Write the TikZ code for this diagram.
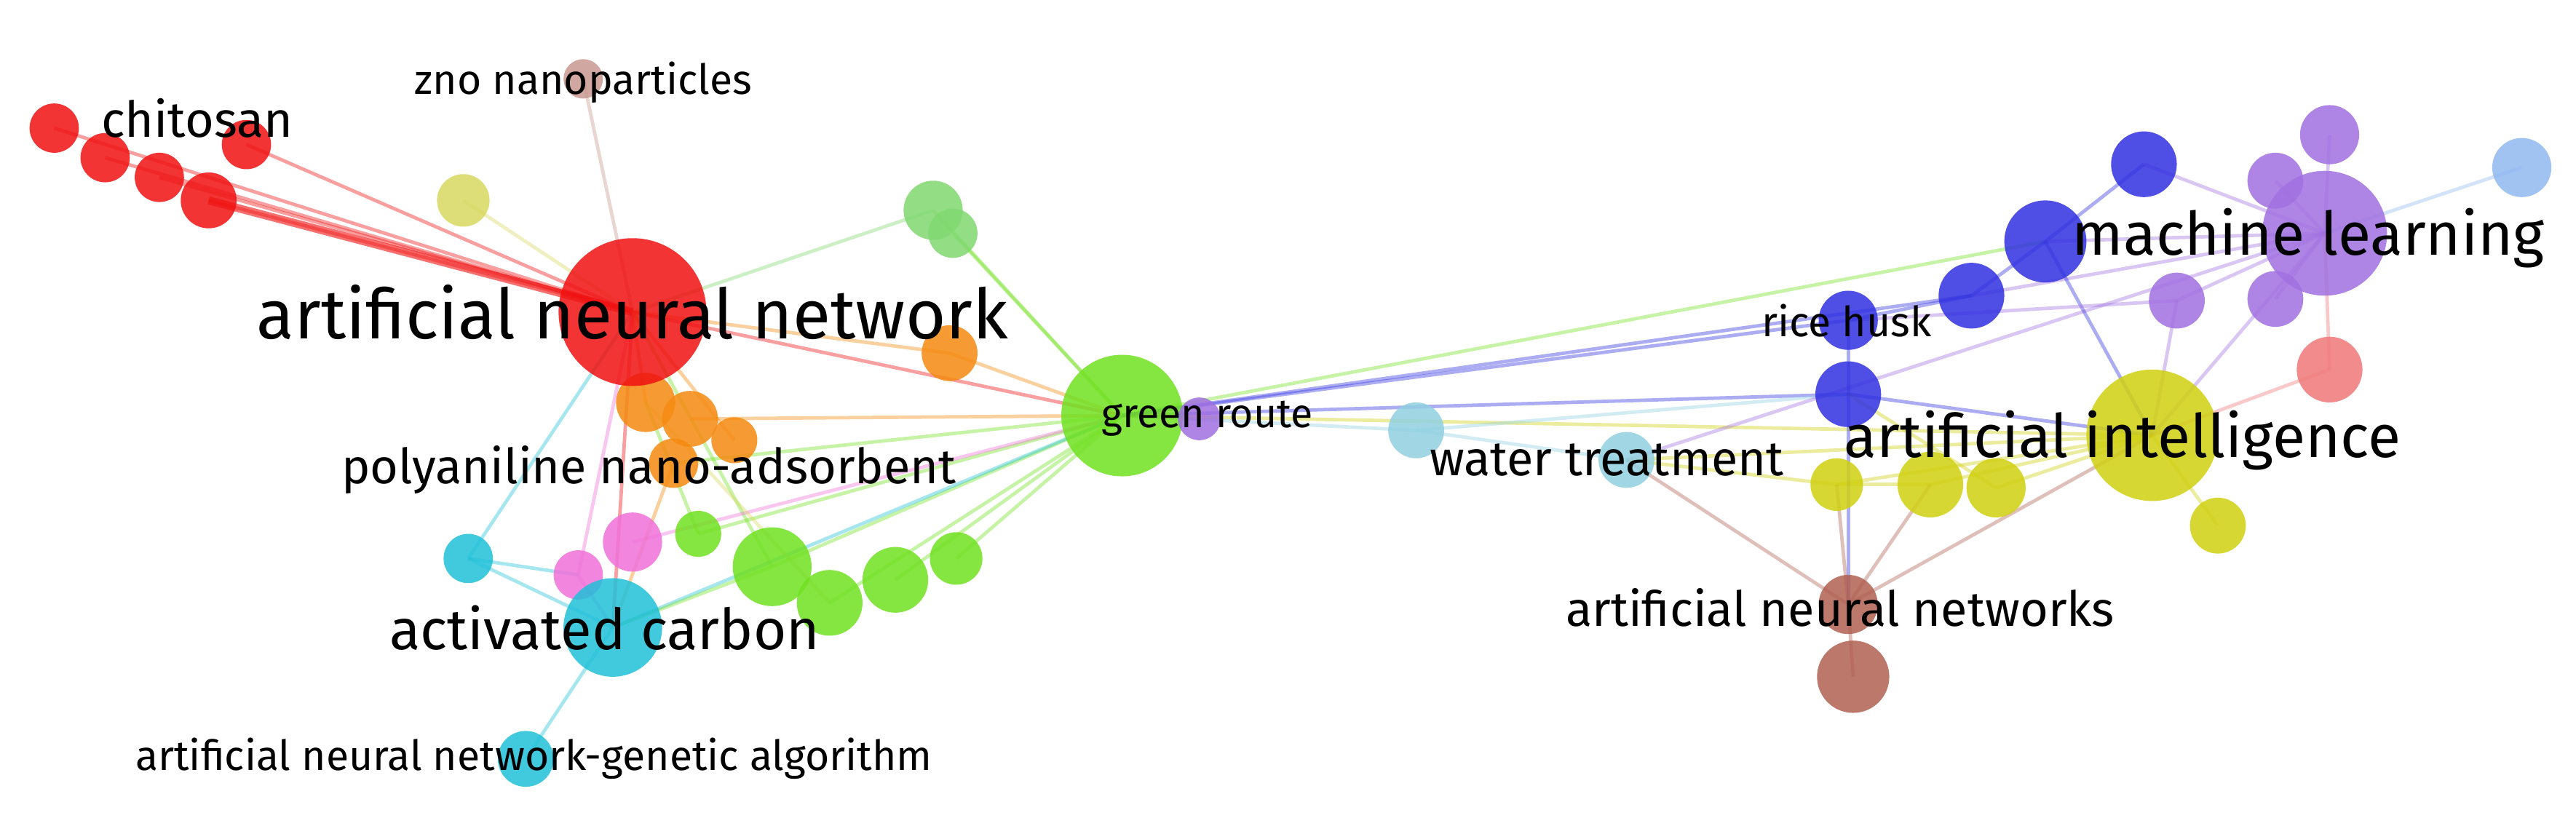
\documentclass[tikz,border=0pt]{standalone}
\usepackage{fontspec}
\setmainfont{Fira Sans}
\begin{document}
\begin{tikzpicture}[x=0.05cm,y=-0.05cm,
  b/.style={circle,inner sep=0pt,opacity=0.85},
  e/.style={line width=3pt,opacity=0.4},
  lab/.style={text=black,inner sep=0pt}]
\useasboundingbox (0,0) rectangle (1568,498);
\definecolor{cR}{HTML}{F01010}\definecolor{cO}{HTML}{F58A10}\definecolor{cG}{HTML}{70E020}
\definecolor{cC}{HTML}{20C0D8}\definecolor{cP}{HTML}{F070D8}\definecolor{cB}{HTML}{3030E0}
\definecolor{cV}{HTML}{A070E0}\definecolor{cY}{HTML}{D0D010}\definecolor{cN}{HTML}{B06050}
\definecolor{cL}{HTML}{90D0E0}\definecolor{cS}{HTML}{90B8F0}\definecolor{cK}{HTML}{F07878}
\definecolor{cZ}{HTML}{C89890}\definecolor{cYL}{HTML}{D8D860}\definecolor{cGL}{HTML}{80D870}
% coordinates
\coordinate (ann) at (385,190);
\coordinate (r1) at (33,78);\coordinate (r2) at (64,96);\coordinate (r3) at (97,108);
\coordinate (r4) at (127,122);\coordinate (r5) at (150,88);
\coordinate (zno) at (355,48);\coordinate (yl) at (282,122);
\coordinate (g1) at (568,128);\coordinate (g2) at (580,142);
\coordinate (o1) at (578,215);\coordinate (o2) at (393,245);\coordinate (o3) at (420,255);
\coordinate (o4) at (447,268);\coordinate (o5) at (410,282);
\coordinate (gr) at (683,253);\coordinate (pv) at (730,255);
\coordinate (c1) at (285,340);\coordinate (ac) at (373,382);\coordinate (c3) at (320,462);
\coordinate (p1) at (352,350);\coordinate (p2) at (385,330);
\coordinate (g3) at (425,325);\coordinate (g4) at (470,345);\coordinate (g5) at (505,367);
\coordinate (g6) at (545,353);\coordinate (g7) at (582,340);
\coordinate (lb) at (862,262);\coordinate (wt) at (990,280);
\coordinate (b1) at (1305,100);\coordinate (b2) at (1245,147);\coordinate (b3) at (1200,180);
\coordinate (rh) at (1125,195);\coordinate (b5) at (1125,240);
\coordinate (ml) at (1415,142);\coordinate (v2) at (1385,110);\coordinate (v3) at (1418,82);
\coordinate (v4) at (1385,182);\coordinate (v5) at (1325,183);
\coordinate (sb) at (1535,102);\coordinate (pk) at (1418,225);
\coordinate (ai) at (1310,265);\coordinate (y2) at (1118,295);\coordinate (y3) at (1175,295);
\coordinate (y4) at (1215,297);\coordinate (y5) at (1350,320);
\coordinate (ann2) at (1125,368);\coordinate (n2) at (1128,412);
% edges
\foreach \a/\b/\c in {ann/r1/cR,ann/r2/cR,ann/r3/cR,ann/r4/cR,ann/r5/cR,ann/zno/cZ,ann/yl/cYL,
 ann/g1/cGL,ann/o1/cO,ann/gr/cR,ann/o2/cO,ann/ac/cR,ann/c1/cC,ann/p1/cP,ann/g4/cG,ann/o4/cO,
 gr/g1/cG,gr/g2/cG,gr/o1/cO,gr/o3/cO,gr/o5/cG,gr/g3/cG,gr/g4/cG,gr/g5/cG,gr/g6/cG,gr/g7/cG,gr/ac/cC,
 gr/p2/cP,gr/pv/cV,gr/lb/cL,gr/b2/cG,gr/b3/cB,gr/b5/cB,gr/ai/cY,gr/rh/cB,
 ac/c1/cC,ac/c3/cC,ac/g4/cG,ac/p1/cP,ac/o5/cO,c1/p1/cC,o2/g3/cG,o2/g5/cYL,
 lb/wt/cL,lb/b5/cL,wt/ai/cY,wt/y2/cY,wt/ann2/cN,wt/ml/cV,
 b5/rh/cB,rh/b3/cB,b3/b2/cB,b2/b1/cB,b2/ml/cV,b3/ml/cV,b1/ml/cV,ml/sb/cS,ml/v2/cV,ml/v3/cV,ml/v4/cV,ml/v5/cV,
 ml/ai/cV,ml/pk/cK,b2/ai/cB,b5/ai/cB,ai/pk/cK,ai/y2/cY,ai/y3/cY,ai/y4/cY,ai/y5/cY,ai/v5/cV,y2/y3/cY,
 ann2/y2/cN,ann2/y3/cN,ann2/n2/cN,ann2/ai/cN,ann2/b5/cB,rh/v5/cV,b5/y4/cY}
 \draw[e,\c] (\a) -- (\b);
\draw[cR,line width=7pt,opacity=0.6] (ann) -- (r4);
% bubbles
\foreach \p/\r/\c in {r1/15/cR,r2/15/cR,r3/15/cR,r4/17/cR,r5/15/cR,zno/12/cZ,yl/16/cYL,
 g1/18/cGL,g2/15/cGL,o1/17/cO,o2/18/cO,o3/17/cO,o4/14/cO,o5/15/cO,gr/37/cG,pv/13/cV,
 c1/15/cC,c3/17/cC,p1/15/cP,p2/18/cP,g3/14/cG,g4/24/cG,g5/20/cG,g6/20/cG,g7/16/cG,ac/30/cC,ann/45/cR,
 lb/17/cL,wt/17/cL,b1/20/cB,b2/25/cB,b3/20/cB,rh/18/cB,b5/20/cB,v2/17/cV,v3/18/cV,v4/17/cV,v5/17/cV,
 ml/38/cV,sb/18/cS,pk/20/cK,ai/40/cY,y2/16/cY,y3/20/cY,y4/18/cY,y5/17/cY,ann2/18/cN,n2/22/cN}
 \node[b,fill=\c,minimum size=2*\r*0.05cm] (n\p) at (\p) {};
% labels
\node[lab,font=\fontsize{60}{60}\selectfont] at (385,190) {artificial neural network};
\node[lab,font=\fontsize{43}{43}\selectfont] at (120,72) {chitosan};
\node[lab,font=\fontsize{36}{36}\selectfont] at (355,50) {zno nanoparticles};
\node[lab,font=\fontsize{42}{42}\selectfont] at (395,286) {polyaniline nano-adsorbent};
\node[lab,font=\fontsize{49}{49}\selectfont] at (368,382) {activated carbon};
\node[lab,font=\fontsize{36}{36}\selectfont] at (325,462) {artificial neural network-genetic algorithm};
\node[lab,font=\fontsize{35}{35}\selectfont] at (735,255) {green route};
\node[lab,font=\fontsize{42}{42}\selectfont] at (978,280) {water treatment};
\node[lab,font=\fontsize{36}{36}\selectfont] at (1124,195) {rice husk};
\node[lab,font=\fontsize{52}{52}\selectfont] at (1405,145) {machine learning};
\node[lab,font=\fontsize{52}{52}\selectfont] at (1292,268) {artificial intelligence};
\node[lab,font=\fontsize{42}{42}\selectfont] at (1120,370) {artificial neural networks};
\end{tikzpicture}
\end{document}
